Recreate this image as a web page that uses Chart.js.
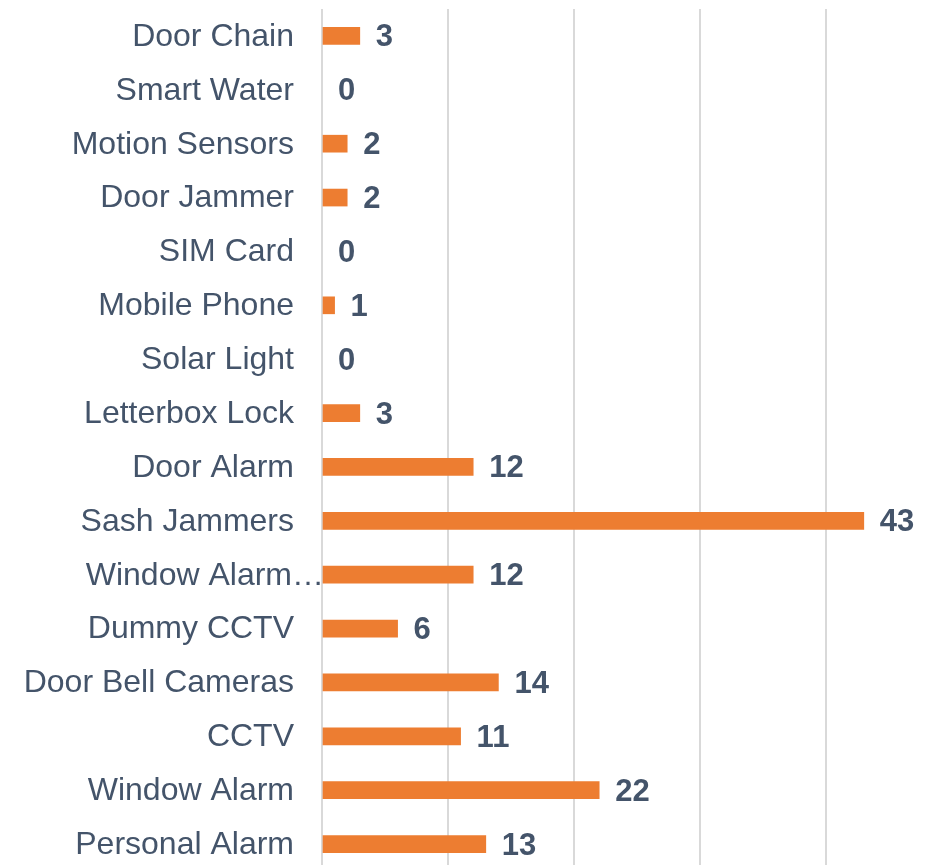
<!DOCTYPE html>
<html>
<head>
<meta charset="utf-8">
<script src="https://cdn.jsdelivr.net/npm/chart.js@4"></script>
<style>
  html, body { margin: 0; padding: 0; background: #fff; overflow: hidden; }
  #wrap { width: 960px; height: 880px; }
</style>
</head>
<body>
<div id="wrap"><canvas id="myChart" width="960" height="880"></canvas></div>
<script>
// categories top to bottom, with their counts
const categories = [
  'Door Chain', 'Smart Water', 'Motion Sensors', 'Door Jammer', 'SIM Card',
  'Mobile Phone', 'Solar Light', 'Letterbox Lock', 'Door Alarm', 'Sash Jammers',
  'Window Alarm…', 'Dummy CCTV', 'Door Bell Cameras', 'CCTV', 'Window Alarm',
  'Personal Alarm'
];
const counts = [3, 0, 2, 2, 0, 1, 0, 3, 12, 43, 12, 6, 14, 11, 22, 13];

const textColor = '#44546A';
const fontFamily = 'Arial, "Liberation Sans", sans-serif';

// draws the category names and the value next to each bar
const labelPlugin = {
  id: 'labels',
  afterDatasetsDraw(chart) {
    const ctx = chart.ctx;
    const yScale = chart.scales.y;
    const meta = chart.getDatasetMeta(0);
    ctx.save();
    ctx.fillStyle = textColor;
    ctx.textBaseline = 'middle';

    ctx.font = '32px ' + fontFamily;
    ctx.textAlign = 'right';
    const labelRight = chart.chartArea.left - 28;
    categories.forEach((name, i) => {
      const y = yScale.getPixelForTick(i);
      let x = labelRight;
      if (name.endsWith('…')) x += ctx.measureText('…').width - 2;
      ctx.fillText(name, x, y + 1);
    });

    ctx.font = 'bold 31px ' + fontFamily;
    ctx.textAlign = 'left';
    meta.data.forEach((bar, i) => {
      ctx.fillText(String(counts[i]), bar.x + 16, bar.y + 2);
    });
    ctx.restore();
  }
};

const ctx = document.getElementById('myChart').getContext('2d');
const myChart = new Chart(ctx, {
  type: 'bar',
  data: {
    labels: categories,
    datasets: [{
      data: counts,
      backgroundColor: counts.map(v => (v === 0 ? 'rgba(0,0,0,0)' : '#ED7D31')),
      borderWidth: 0,
      barThickness: 17,
    }],
  },
  options: {
    indexAxis: 'y',
    responsive: false,
    animation: false,
    layout: { padding: { left: 322, right: 8, top: 9, bottom: 9 } },
    plugins: {
      legend: { display: false },
      tooltip: { enabled: false },
    },
    scales: {
      x: {
        min: 0,
        max: 50,
        ticks: { display: false, stepSize: 10 },
        grid: { color: '#d9d9d9', lineWidth: 2, drawTicks: false },
        border: { display: false },
      },
      y: {
        ticks: { display: false },
        grid: { display: false, drawTicks: false },
        border: { display: false },
      },
    },
  },
  plugins: [labelPlugin],
});
</script>
</body>
</html>
